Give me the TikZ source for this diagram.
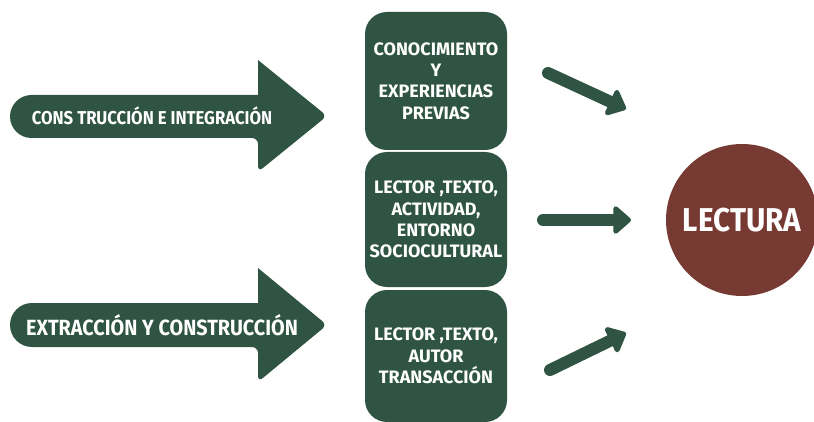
\documentclass[tikz,border=0pt]{standalone}
\usepackage{fontspec}
\setmainfont{Fira Sans}[FakeStretch=0.9]
\newfontfamily\boxfont{Fira Sans}
\usetikzlibrary{arrows.meta}
\definecolor{leafgreen}{HTML}{2F5443}
\definecolor{rustbrown}{HTML}{773A33}

\begin{document}
\begin{tikzpicture}
		[x=1pt,y=-1pt,
		factorbox/.style={rectangle,rounded corners=22pt,fill=leafgreen,
text=white,align=center,minimum width=142pt,inner sep=0pt,
font=\boxfont\bfseries\fontsize{18}{21.3}\selectfont},
		readcircle/.style={circle,fill=rustbrown,text=white,minimum size=152pt,
inner sep=0pt,font=\bfseries\fontsize{33}{36}\selectfont},
		bigtext/.style={text=white,inner sep=0pt},
		bigarrow/.style={fill=leafgreen},
		smallarrow/.style={draw=leafgreen,line width=12pt,line cap=round,
-{Triangle[width=32pt,length=19pt,round]}}]
		\useasboundingbox (0,0) rectangle (814,422);
		% big arrows on the left
		\fill[bigarrow] (100,138) [rounded corners=21.5pt] -- (10,138) -- (10,95) -- (100,95)
			[sharp corners] -- (258,95) -- (258,60) [rounded corners=6pt] -- (327,116)
			-- (258,172) -- (258,138) [sharp corners] -- cycle;
		\fill[bigarrow] (100,347) [rounded corners=22pt] -- (10,347) -- (10,303) -- (100,303)
			[sharp corners] -- (258,303) -- (258,268) [rounded corners=6pt] -- (327,325)
			-- (258,382) -- (258,347) [sharp corners] -- cycle;
		\node at (152,116) (integ) [bigtext,font=\bfseries\fontsize{18.6}{20}\selectfont]
			{CONS TRUCCIÓN E INTEGRACIÓN};
		\node at (162,325) (extrac) [bigtext,font=\bfseries\fontsize{22}{24}\selectfont]
			{EXTRACCIÓN Y CONSTRUCCIÓN};
		% middle column
		\node at (436,81) (previas) [factorbox,minimum height=138pt]
			{CONOCIMIENTO\\Y\\EXPERIENCIAS\\PREVIAS};
		\node at (436,219.5) (entorno) [factorbox,minimum height=135pt]
			{LECTOR ,TEXTO,\\ACTIVIDAD,\\ENTORNO\\SOCIOCULTURAL};
		\node at (436,356) (autor) [factorbox,minimum height=132pt]
			{LECTOR ,TEXTO,\\AUTOR\\TRANSACCIÓN};
		% reading
		\node at (742,220) (lectura) [readcircle] {LECTURA};
		\coordinate (from1) at (548,73);
		\coordinate (to1) at (626,109);
		\coordinate (from2) at (543,220);
		\coordinate (to2) at (631,220);
		\coordinate (from3) at (550,370);
		\coordinate (to3) at (626,333);
		\draw[smallarrow] (from1) -- (to1);
		\draw[smallarrow] (from2) -- (to2);
		\draw[smallarrow] (from3) -- (to3);
	\end{tikzpicture}
\end{document}
